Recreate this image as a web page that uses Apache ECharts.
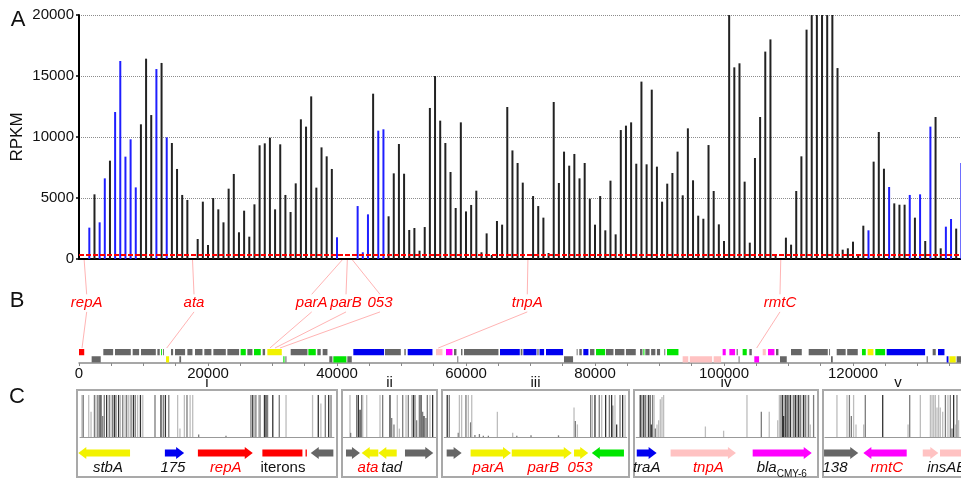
<!DOCTYPE html>
<html><head><meta charset="utf-8">
<script src="https://cdn.jsdelivr.net/npm/echarts@6/dist/echarts.min.js"></script>
<style>html,body{margin:0;padding:0;background:#fff}#c{width:961px;height:480px}</style>
</head><body><div id="c"></div>
<script>
// ---------- DATA ----------
const WINDOW_BP = 800;            // coverage window step (bp)
const GENOME_MAX = 136900;
// RPKM per 800-bp window (window k centred at k*800 bp)
const rpkm = [0,0,
 2570,5300,3005,6610,8060,12050,16230,8390,9810,5870,
 11040,16420,11800,15570,16070,9970,9510,7380,5250,4840,
 0,1640,4700,1150,5000,4070,3005,5765,6970,2190,
 3960,1830,4480,9320,9480,9945,4070,9400,5250,3850,
 6200,11450,10850,13330,5850,9150,8415,7380,1780,0,
 0,0,4340,550,3660,13550,10520,10630,3500,7020,
 9425,6990,2380,2540,680,2620,12380,15000,11340,9510,
 7130,4180,11200,3900,4430,5600,550,2100,330,3115,
 2815,12460,8900,7870,6260,0,5160,4340,3390,490,
 12870,6230,8800,7650,8610,6610,7870,4945,2815,5160,
 2350,6420,2020,10570,10930,11200,7810,14540,7760,13880,
 7570,4700,6175,7050,8800,5220,10710,6450,3550,3300,
 9340,5575,2840,1475,20000,15710,16040,6340,1340,8280,
 11640,17000,18000,400,0,1750,1175,5575,8415,18800,
 20000,20000,20000,20000,20000,15650,765,875,1420,330,
 2730,2350,7980,10410,7400,5900,4560,4450,4450,5250,
 3390,5300,1475,10850,11640,875,2650,3280,2490,7870];
// windows drawn in blue
const blueWindows = [2,4,5,7,8,9,10,11,15,17,50,54,55,56,58,59,153,157,161,163,165,168,169,171];
const yTicks = [0,5000,10000,15000,20000];
const threshold = 350;
const trackTicks = [0,20000,40000,60000,80000,100000,120000];

// gene map (panel B): [start, end, strand, class]
const trackGenes = [
[0,950,1,'r'],[1960,3510,-1,'g'],[3770,5430,1,'g'],[5580,8170,1,'g'],[8320,9460,1,'g'],[9610,12050,1,'g'],[12150,12660,1,'g'],[12710,12970,1,'gr'],[13020,13230,1,'g'],[13490,14110,-1,'y'],[14260,14730,1,'g'],[14880,16590,1,'g'],[15560,15970,-1,'g'],[16800,17730,1,'g'],[17980,19280,1,'g'],[19430,20670,1,'g'],[20830,22900,1,'g'],[23000,24960,1,'g'],[25060,26000,1,'gr'],[26100,27030,1,'g'],[27130,28320,1,'gr'],[28470,28990,1,'g'],[29200,31580,1,'y'],[31680,32000,-1,'gr'],[32000,32300,-1,'g'],[32820,35560,1,'g'],[35560,36850,1,'gr'],[36950,37620,1,'g'],[37780,38660,1,'g'],[38810,39430,-1,'g'],[39430,41600,-1,'gr'],[41600,42430,-1,'g'],[42530,47440,1,'b'],[47440,50030,1,'g'],[50440,50800,1,'g'],[50960,54940,1,'b'],[55350,56490,1,'p'],[56900,58040,1,'m'],[58140,58660,1,'g'],[58660,58920,-1,'g'],[59230,59590,1,'g'],[59690,65170,1,'g'],[65270,68480,1,'b'],[68480,68890,1,'g'],[68890,71060,1,'b'],[71060,71400,1,'g'],[71400,72250,1,'b'],[72400,75190,1,'b'],[75190,76740,-1,'g'],[77160,77420,1,'g'],[77570,78090,1,'g'],[78190,79120,1,'b'],[79230,80050,1,'g'],[80160,81710,1,'gr'],[81710,83000,1,'g'],[83100,84700,1,'g'],[84800,86460,1,'g'],[86980,87500,1,'g'],[87500,87800,1,'gr'],[87800,88600,1,'g'],[88700,89500,1,'g'],[89600,90230,1,'g'],[90750,91010,1,'g'],[91160,93080,1,'gr'],[93590,94600,-1,'p'],[94700,98300,-1,'p'],[98400,99690,-1,'p'],[99790,100410,1,'m'],[100830,101860,1,'m'],[101960,102270,1,'g'],[102270,102480,-1,'g'],[102890,103670,1,'gr'],[103930,104450,1,'g'],[104700,105580,-1,'m'],[106000,106620,1,'p'],[106820,107960,1,'m'],[108060,108580,1,'g'],[108680,109870,-1,'g'],[110390,112200,1,'g'],[113130,116230,1,'g'],[116300,116550,1,'g'],[116590,117000,-1,'g'],[117470,119000,1,'g'],[119100,120880,1,'g'],[121390,122120,1,'gr'],[122270,123310,1,'y'],[123460,125120,1,'gr'],[125220,131320,1,'b'],[131420,131730,-1,'g'],[132350,132970,1,'g'],[133180,134320,1,'b'],[134520,134940,-1,'b'],[134940,136070,-1,'y'],[136070,136900,-1,'g']
];

// annotated genes linking panel A and panel B
const connectorLabels = ['repA','ata','parA','parB','053','tnpA','rmtC'];
const connectorAxisBp = [800,17600,40800,41600,42400,69600,108800];
const connectorLabelBp = [1190,17830,36080,41400,46670,69500,108680];
const connectorTrackBp = [470,13600,29600,30390,31160,55700,105070];

// panel C boxes
const boxNames = ['i','ii','iii','iv','v'];
// coverage spikes per box: [position % of box, relative height, density level]
const boxCoverage = [
 [[1.9,1,1],[2.4,1,2],[4.5,1,1],[5.4,0.6,1],[6.7,1,2],[7.3,1,1],[8.0,1,2],[8.6,1,2],[9.2,1,3],[9.9,0.5,2],[10.5,1,2],[11.4,1,3],[12.4,1,2],[13.1,1,1],[13.7,1,2],[14.4,1,3],[15.0,1,2],[16.0,1,3],[16.7,1,1],[17.6,1,2],[18.5,1,1],[19.1,1,2],[19.9,1,1],[20.8,1,2],[21.7,1,3],[22.4,1,2],[23.3,1,1],[24.4,1,3],[25.3,1,1],[30.0,1,2],[32.3,1,3],[33.2,1,2],[34.0,1,3],[35.3,1,2],[38.7,1,1],[39.6,0.2,1],[41.3,1,1],[42.3,1,2],[43.5,1,1],[44.5,1,1],[46.8,0.06,2],[57.3,0.03,2],[66.9,1,2],[67.6,1,3],[68.2,1,1],[68.8,1,2],[69.9,1,1],[70.4,1,2],[72.1,1,3],[72.7,1,3],[73.3,1,2],[75.3,1,3],[77.8,1,2],[80.4,1,1],[90.6,1,1],[92.8,1,3],[93.8,0.8,1],[95.5,1,2],[96.8,1,3],[97.7,1,2]],
 [[8.4,1,1],[9.1,0.1,2],[15.4,1,2],[17.2,1,3],[19.0,0.65,3],[20.7,1,2],[21.8,1,1],[26.0,1,1],[40.0,1,1],[42.8,1,2],[50.5,1,3],[52.3,0.45,2],[54.7,0.3,2],[58.2,1,1],[60.4,0.2,1],[63.9,1,2],[67.4,1,1],[69.8,1,2],[73.3,1,1],[75.1,1,3],[76.8,1,2],[78.6,0.4,2],[81.4,1,2],[83.2,1,3],[84.9,0.6,2],[86.3,0.5,3],[88.4,0.45,2],[89.8,1,2],[92.6,1,1],[95.4,1,3]],
 [[2.8,1,3],[3.9,1,2],[8.7,0.1,2],[9.3,1,1],[10.5,1,1],[12.8,1,2],[14.1,1,1],[15.3,0.35,2],[15.9,1,1],[17.6,0.05,2],[20.0,0.07,2],[22.1,0.03,2],[24.8,0.03,2],[29.6,0.6,1],[37.8,0.1,1],[40.0,0.03,2],[47.6,0.04,2],[62.3,0.04,2],[70.6,0.7,1],[71.3,0.38,2],[72.4,0.3,1],[79.5,1,2],[80.4,1,1],[81.8,1,3],[84.1,1,2],[85.4,1,1],[87.5,1,3],[89.5,1,2],[90.7,1,3],[91.3,0.75,2],[92.5,1,1],[93.4,0.3,3],[95.2,1,2],[96.6,1,3],[97.9,1,1]],
 [[3.4,1,3],[4.3,1,2],[5.3,1,3],[6.2,1,2],[7.1,1,1],[8.0,1,3],[8.9,1,2],[9.4,0.3,3],[10.1,1,2],[10.9,1,1],[11.6,0.2,2],[12.5,0.3,1],[13.4,0.4,1],[14.3,0.9,1],[15.2,0.95,1],[16.1,1,1],[38.8,0.25,1],[48.7,0.15,1],[61.4,1,1],[69.2,0.6,2],[73.5,0.6,1],[78.1,0.4,1],[79.0,1,1],[79.9,1,2],[80.8,1,3],[81.3,0.5,3],[82.2,1,3],[83.2,1,3],[84.1,1,2],[85.0,1,3],[85.9,1,1],[86.8,1,2],[87.7,1,3],[88.6,1,2],[89.5,1,3],[90.4,1,2],[91.3,1,1],[92.2,1,3],[93.1,1,2],[94.0,1,1],[94.9,1,2],[95.8,0.3,1],[97.6,1,2]],
 [[9.3,1,1],[16.0,1,1],[17.6,1,2],[18.9,0.5,2],[20.4,1,1],[22.0,0.3,1],[27.1,0.3,1],[28.2,1,2],[39.8,1,3],[56.7,0.3,1],[57.8,1,2],[64.9,1,1],[71.6,1,1],[72.7,1,1],[73.8,1,1],[74.9,1,1],[76.0,0.7,1],[77.1,1,1],[78.2,0.7,1],[79.8,0.6,1],[81.6,1,2],[83.3,1,1],[84.9,1,2],[86.0,0.2,2],[87.1,1,3],[88.2,0.3,1],[89.3,1,2],[90.4,0.4,1]]
];
// genes per box: [start %, end %, direction, class, label, label position %, highlighted]
const boxGenes = [
 [[0.5,20.4,-1,'y','stbA',11.9,0],[33.8,41.2,1,'b','175',36.9,0],[46.5,67.6,1,'r','repA',57.2,1],[71.3,86.7,0,'r','iterons',79.2,0],[87.9,88.4,0,'r','',0,0],[89.9,98.6,-1,'g','',0,0]],
 [[4.2,18.9,1,'g','',0,0],[20.7,38.2,-1,'y','ata',27.4,1],[38.2,57.6,-1,'y','tad',52.3,0],[66.3,96.1,1,'g','',0,0]],
 [[2.5,10.5,1,'g','',0,0],[15.3,36.9,1,'y','parA',24.8,1],[37.3,69.4,1,'y','parB',54.2,1],[70.6,78.2,1,'y','053',73.8,1],[80.1,97.3,-1,'gr','',0,0]],
 [[1.5,12.3,1,'b','traA',6.9,0],[19.9,55.4,1,'p','tnpA',40.4,1],[64.5,96.6,1,'m','blaCMY-6',80.3,0]],
 [[0.7,23.5,1,'g','138',8.0,0],[26.9,55.8,-1,'m','rmtC',42.5,1],[66.5,76.9,1,'p','',0,0],[78,105,1,'p','insAB',82.5,0]]
];

// ---------- STYLE / LAYOUT ----------
const FONT = '"Liberation Sans", Arial, Helvetica, sans-serif';
const geneColors = {g:'#666666', b:'#0000f0', y:'#f2f200', gr:'#00e600', r:'#ff0000', p:'#ffc2c2', m:'#ff00ff'};
const shadeColors = {1:'#bdbdbd', 2:'#7c7c7c', 3:'#333333'};
const boxLayout = [{left:77,width:260},{left:342,width:95},{left:442,width:187},{left:634,width:184},{left:823,width:150}];
const PLOT_LEFT = 79, PLOT_W = 883;

const chart = echarts.init(document.getElementById('c'), null, {renderer:'canvas'});

const grids = [
  {left:PLOT_LEFT, top:15, width:PLOT_W, height:244, outerBoundsMode:'none'},
  {left:PLOT_LEFT, top:348.5, width:PLOT_W, height:14.5, outerBoundsMode:'none'},
  {left:PLOT_LEFT, top:260, width:PLOT_W, height:88, outerBoundsMode:'none'}
];
const xAxes = [
  {gridIndex:0, type:'value', min:0, max:GENOME_MAX, axisLine:{show:true, onZero:false, lineStyle:{color:'#000', width:2}}, axisTick:{show:false}, axisLabel:{show:false}, splitLine:{show:false}},
  {gridIndex:1, type:'value', min:0, max:GENOME_MAX, interval:5000,
    axisLine:{show:true, onZero:false, lineStyle:{color:'#8a8a8a', width:1.5}},
    axisTick:{show:true, length:3, lineStyle:{color:'#8a8a8a', width:1}},
    axisLabel:{show:true, margin:3, fontSize:15, color:'#111', fontFamily:FONT, showMaxLabel:false, hideOverlap:false,
      formatter: v => trackTicks.includes(v) ? String(v) : ''},
    splitLine:{show:false}},
  {gridIndex:2, type:'value', min:0, max:GENOME_MAX, show:false}
];
const yAxes = [
  {gridIndex:0, type:'value', min:yTicks[0], max:yTicks[yTicks.length-1], interval:5000,
    axisLine:{show:true, lineStyle:{color:'#000', width:2}},
    axisTick:{show:true, length:3, lineStyle:{color:'#000', width:1.5}},
    axisLabel:{fontSize:15, color:'#111', margin:5, fontFamily:FONT, formatter: v => String(v)},
    splitLine:{show:true, lineStyle:{type:'dotted', color:'#8c8c8c', width:1}},
    name:'RPKM', nameLocation:'middle', nameRotate:90, nameGap:53, nameMoveOverlap:false,
    nameTextStyle:{fontSize:17, color:'#111', fontFamily:FONT}},
  {gridIndex:1, type:'value', min:0, max:2, show:false},
  {gridIndex:2, type:'value', min:0, max:1, inverse:true, show:false}
];

const series = [
  {type:'bar', xAxisIndex:0, yAxisIndex:0, barWidth:2, silent:true,
   data: rpkm.map((v,k)=>({value:[k*WINDOW_BP, v], itemStyle:{color: blueWindows.includes(k) ? '#1f1fff' : '#222222'}})),
   markLine:{silent:true, symbol:'none', label:{show:false}, z:5,
     lineStyle:{color:'#ff0000', type:[5,2], width:2}, data:[{yAxis:threshold}]}},
  {type:'custom', xAxisIndex:1, yAxisIndex:1, silent:true,
   data: trackGenes.map(g=>[g[0], 1]),
   renderItem(params, api){
     const g = trackGenes[params.dataIndex];
     const top = g[2] > 0 ? 2 : 1, bot = g[2] > 0 ? 1 : 0;
     const p1 = api.coord([g[0], top]), p2 = api.coord([g[1], bot]);
     return {type:'rect', shape:{x:p1[0], y:p1[1]+0.5, width:Math.max(p2[0]-p1[0]-0.9, 0.9), height:p2[1]-p1[1]-1},
             style:{fill:geneColors[g[3]]}};
   }},
  {type:'custom', xAxisIndex:2, yAxisIndex:2, silent:true, z:3,
   data: connectorLabels.map((l,i)=>[connectorAxisBp[i], 0.5]),
   renderItem(params, api){
     const i = params.dataIndex;
     const a = api.coord([connectorAxisBp[i], 0]);
     const l1 = api.coord([connectorLabelBp[i], 0.39]);
     const lt = api.coord([connectorLabelBp[i], 0.49]);
     const l2 = api.coord([connectorLabelBp[i], 0.59]);
     const t = api.coord([connectorTrackBp[i], 1]);
     const ls = {stroke:'#ffb4b4', lineWidth:1};
     return {type:'group', children:[
       {type:'line', shape:{x1:a[0], y1:a[1], x2:l1[0], y2:l1[1]}, style:ls},
       {type:'line', shape:{x1:l2[0], y1:l2[1], x2:t[0], y2:t[1]}, style:ls},
       {type:'text', x:lt[0], y:lt[1], style:{text:connectorLabels[i], fill:'#ff0000', fontSize:15, fontStyle:'italic', fontFamily:FONT, align:'center', verticalAlign:'middle'}}
     ]};
   }}
];

const Y_GENE = -0.381, Y_LABEL = -0.738;
boxNames.forEach((nm, b) => {
  const gi = grids.length;
  grids.push({left:boxLayout[b].left, top:390, width:boxLayout[b].width, height:87, show:true,
              borderColor:'#a9a9a9', borderWidth:2, backgroundColor:'transparent', outerBoundsMode:'none'});
  xAxes.push({gridIndex:gi, type:'value', min:0, max:100, show:false});
  yAxes.push({gridIndex:gi, type:'value', min:-0.952, max:1.119, show:false});
  series.push({type:'bar', xAxisIndex:gi, yAxisIndex:gi, barWidth:1.3, silent:true,
    data: boxCoverage[b].map(c=>({value:[c[0], c[1]], itemStyle:{color:shadeColors[c[2]]}})),
    markLine:{silent:true, symbol:'none', label:{show:false}, lineStyle:{color:'#999', type:'solid', width:1},
      data:[[{coord:[1,0]},{coord:[99,0]}]]}});
  const list = boxGenes[b];
  series.push({type:'custom', xAxisIndex:gi, yAxisIndex:gi, silent:true,
    data: list.map(g=>[g[0], Y_GENE]),
    renderItem(params, api){
      const g = list[params.dataIndex];
      const a = api.coord([g[0], Y_GENE]), e = api.coord([g[1], Y_GENE]);
      const y = a[1], x1 = a[0], x2 = e[0];
      const bh = 3.5, hh = 6, hl = Math.min(8, x2 - x1);
      let pts;
      if (g[2] === 1) pts = [[x1,y-bh],[x2-hl,y-bh],[x2-hl,y-hh],[x2,y],[x2-hl,y+hh],[x2-hl,y+bh],[x1,y+bh]];
      else if (g[2] === -1) pts = [[x2,y-bh],[x1+hl,y-bh],[x1+hl,y-hh],[x1,y],[x1+hl,y+hh],[x1+hl,y+bh],[x2,y+bh]];
      else pts = [[x1,y-bh],[x2,y-bh],[x2,y+bh],[x1,y+bh]];
      const children = [{type:'polygon', shape:{points:pts}, style:{fill:geneColors[g[3]]}}];
      if (g[4]) {
        const t = api.coord([g[5], Y_LABEL]);
        const col = g[6] ? '#ff0000' : '#111';
        let st;
        if (g[4] === 'blaCMY-6') {
          st = {text:'{a|bla}{b|CMY-6}', align:'center', verticalAlign:'middle',
                rich:{a:{fontSize:15, fontStyle:'italic', fontFamily:FONT, fill:col, lineHeight:22, verticalAlign:'middle'},
                      b:{fontSize:10, fontFamily:FONT, fill:col, lineHeight:22, verticalAlign:'bottom'}}};
        } else {
          st = {text:g[4], fill:col, fontSize:15, fontStyle: g[4]==='iterons' ? 'normal' : 'italic', fontFamily:FONT, align:'center', verticalAlign:'middle'};
        }
        children.push({type:'text', x:t[0], y:t[1], style:st});
      }
      return {type:'group', children};
    }});
});

const graphic = [
  {type:'text', x:18, y:20, style:{text:'A', fontSize:22, fontFamily:FONT, fill:'#111', align:'center', verticalAlign:'middle'}},
  {type:'text', x:17, y:301, style:{text:'B', fontSize:22, fontFamily:FONT, fill:'#111', align:'center', verticalAlign:'middle'}},
  {type:'text', x:17, y:397, style:{text:'C', fontSize:22, fontFamily:FONT, fill:'#111', align:'center', verticalAlign:'middle'}}
].concat(boxNames.map((nm,b)=>({type:'text', x:boxLayout[b].left + boxLayout[b].width/2, y:383,
  style:{text:nm, fontSize:15, fontFamily:FONT, fill:'#111', align:'center', verticalAlign:'middle'}})));

chart.setOption({
  animation:false,
  backgroundColor:'#fff',
  textStyle:{fontFamily:FONT},
  grid:grids, xAxis:xAxes, yAxis:yAxes, series, graphic
});
</script></body></html>
